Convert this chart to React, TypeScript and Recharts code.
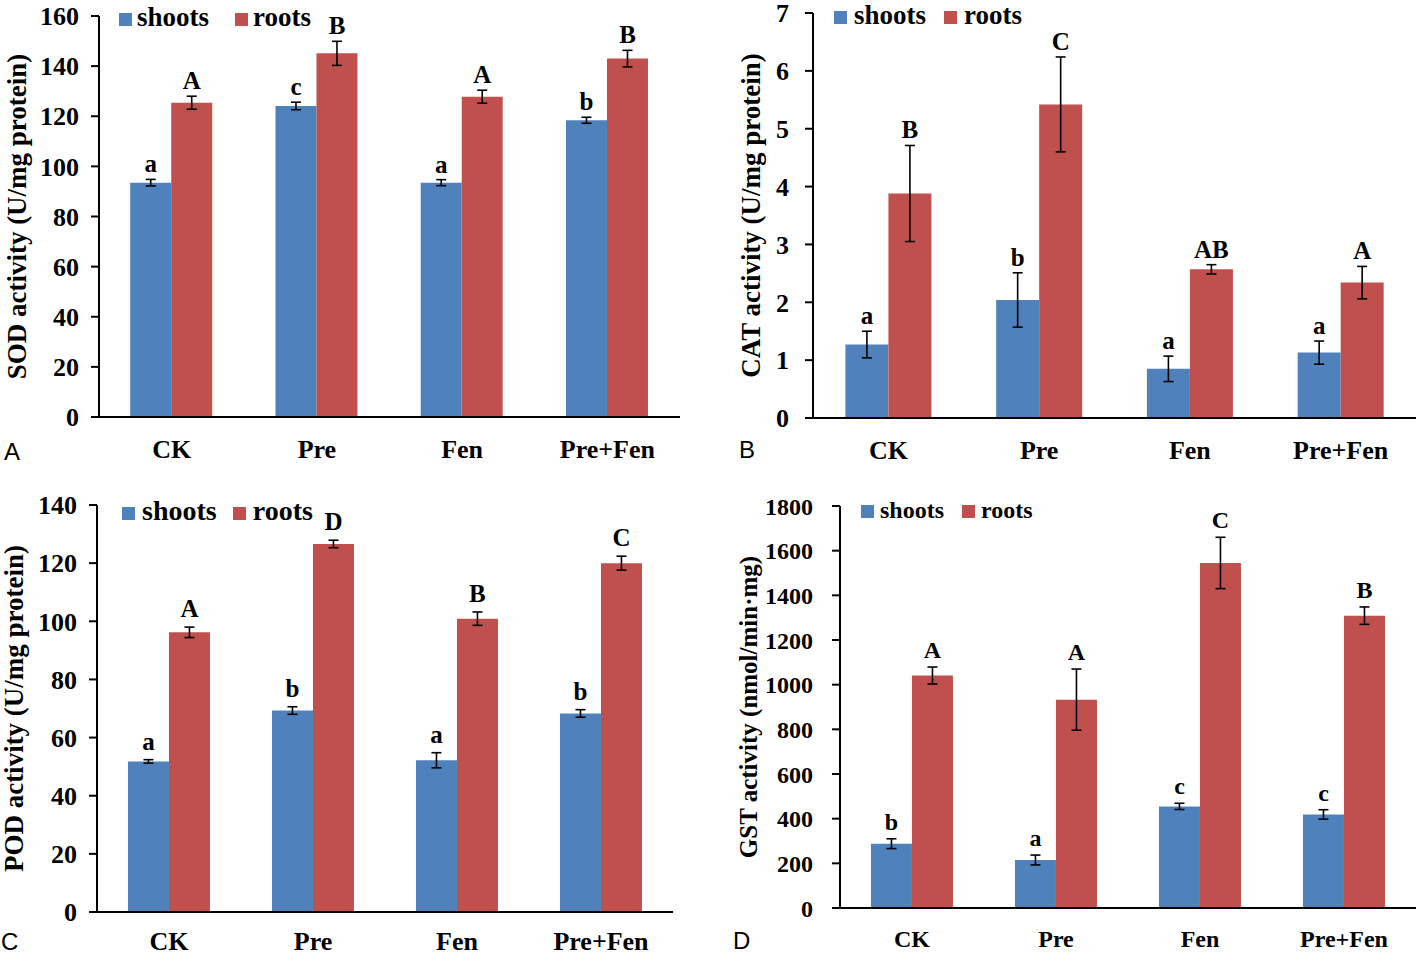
import React from "react";
import { BarChart, Bar, XAxis, YAxis, ErrorBar, LabelList, Legend } from "recharts";

const groups = ["CK", "Pre", "Fen", "Pre+Fen"];
const seriesOrder = ["shoots", "roots"];

// SOD (panel A)
const sodShoots = [93.5, 124.1, 93.5, 118.4];
const sodShootsErr = [1.3, 1.5, 1.2, 1.2];
const sodRoots = [125.4, 145.1, 127.8, 143.0];
const sodRootsErr = [2.6, 4.8, 2.6, 3.3];
const sodShootsSig = ["a", "c", "a", "b"];
const sodRootsSig = ["A", "B", "A", "B"];
const sodTicks = [0, 20, 40, 60, 80, 100, 120, 140, 160];

// CAT (panel B)
const catShoots = [1.27, 2.04, 0.85, 1.13];
const catShootsErr = [0.23, 0.47, 0.22, 0.2];
const catRoots = [3.88, 5.42, 2.57, 2.34];
const catRootsErr = [0.83, 0.82, 0.08, 0.28];
const catShootsSig = ["a", "b", "a", "a"];
const catRootsSig = ["B", "C", "AB", "A"];
const catTicks = [0, 1, 2, 3, 4, 5, 6, 7];

// POD (panel C)
const podShoots = [51.8, 69.3, 52.2, 68.3];
const podShootsErr = [0.6, 1.3, 2.6, 1.3];
const podRoots = [96.2, 126.6, 100.9, 120.0];
const podRootsErr = [1.8, 1.3, 2.3, 2.4];
const podShootsSig = ["a", "b", "a", "b"];
const podRootsSig = ["A", "D", "B", "C"];
const podTicks = [0, 20, 40, 60, 80, 100, 120, 140];

// GST (panel D)
const gstShoots = [288, 215, 455, 419];
const gstShootsErr = [22, 22, 14, 21];
const gstRoots = [1041, 933, 1545, 1309];
const gstRootsErr = [38, 137, 115, 39];
const gstShootsSig = ["b", "a", "c", "c"];
const gstRootsSig = ["A", "A", "C", "B"];
const gstTicks = [0, 200, 400, 600, 800, 1000, 1200, 1400, 1600, 1800];

const BLUE = "#4F81BD";
const RED = "#C0504D";
const SERIF = '"Liberation Serif", "Times New Roman", serif';
const SANS = '"Liberation Sans", Arial, sans-serif';

function buildRows(s: number[], sErr: number[], r: number[], rErr: number[], sSig: string[], rSig: string[]) {
  return groups.map((g, i) => ({
    group: g,
    shoots: s[i],
    shootsErr: sErr[i],
    shootsSig: sSig[i],
    roots: r[i],
    rootsErr: rErr[i],
    rootsSig: rSig[i],
  }));
}

type Cfg = {
  letter: string;
  title: string;
  rows: any[];
  ticks: number[];
  left: number;
  top: number;
  width: number;
  height: number;
  mTop: number;
  mRight: number;
  yWidth: number;
  xHeight: number;
  tickMargin: number;
  tickFont: number;
  catFont: number;
  catBase: number;
  titleX: number;
  titleFont: number;
  legLeft: number;
  legTop: number;
  legFont: number;
  legGap: number;
  legSpace: number;
  sigGap: number;
  sigFont: number;
  letterLeft: number;
  letterTop: number;
};

const panels: Cfg[] = [
  {
    letter: "A", title: "SOD activity (U/mg protein)",
    rows: buildRows(sodShoots, sodShootsErr, sodRoots, sodRootsErr, sodShootsSig, sodRootsSig),
    ticks: sodTicks, left: 0, top: 0, width: 700, height: 470,
    mTop: 16, mRight: 20, yWidth: 99, xHeight: 53, tickMargin: 12, tickFont: 26,
    catFont: 26, catBase: 41, titleX: 17, titleFont: 27,
    legLeft: 119, legTop: 4, legFont: 27, legGap: 5, legSpace: 26, sigGap: 7, sigFont: 25,
    letterLeft: 4, letterTop: 440,
  },
  {
    letter: "B", title: "CAT activity (U/mg protein)",
    rows: buildRows(catShoots, catShootsErr, catRoots, catRootsErr, catShootsSig, catRootsSig),
    ticks: catTicks, left: 710, top: 0, width: 708, height: 470,
    mTop: 13, mRight: 2, yWidth: 103, xHeight: 52, tickMargin: 16, tickFont: 26,
    catFont: 26, catBase: 41, titleX: 41, titleFont: 27,
    legLeft: 124, legTop: 2, legFont: 27, legGap: 7, legSpace: 18, sigGap: 7, sigFont: 25,
    letterLeft: 739, letterTop: 438,
  },
  {
    letter: "C", title: "POD activity (U/mg protein)",
    rows: buildRows(podShoots, podShootsErr, podRoots, podRootsErr, podShootsSig, podRootsSig),
    ticks: podTicks, left: 0, top: 480, width: 700, height: 476,
    mTop: 25, mRight: 27, yWidth: 97, xHeight: 44, tickMargin: 12, tickFont: 26,
    catFont: 26, catBase: 38, titleX: 14, titleFont: 27,
    legLeft: 122, legTop: 17, legFont: 28, legGap: 7, legSpace: 16, sigGap: 10, sigFont: 25,
    letterLeft: 1, letterTop: 930,
  },
  {
    letter: "D", title: "GST activity (nmol/min\u00b7mg)",
    rows: buildRows(gstShoots, gstShootsErr, gstRoots, gstRootsErr, gstShootsSig, gstRootsSig),
    ticks: gstTicks, left: 710, top: 480, width: 708, height: 476,
    mTop: 26, mRight: 2, yWidth: 130, xHeight: 48, tickMargin: 19, tickFont: 24,
    catFont: 24, catBase: 39, titleX: 38, titleFont: 25,
    legLeft: 151, legTop: 18, legFont: 24, legGap: 6, legSpace: 18, sigGap: 9, sigFont: 24,
    letterLeft: 733, letterTop: 929,
  },
];

function sigLabel(rows: any[], key: string, gap: number, font: number) {
  return (props: any) => {
    const vb = props.viewBox ?? props;
    const { x, y, width, height } = vb;
    const row = rows[props.index] ?? props.payload;
    if (!row || x == null) return null;
    const pxPerUnit = height / row[key];
    const errTop = y - row[key + "Err"] * pxPerUnit;
    return (
      <text x={x + width / 2} y={errTop - gap} textAnchor="middle" fontFamily={SERIF} fontWeight="bold" fontSize={font} fill="#000">
        {row[key + "Sig"]}
      </text>
    );
  };
}

function Panel({ cfg }: { cfg: Cfg }) {
  const max = cfg.ticks[cfg.ticks.length - 1];
  const plotH = cfg.height - cfg.mTop - cfg.xHeight;
  return (
    <div style={{ position: "absolute", left: cfg.left, top: cfg.top }}>
      <BarChart
        width={cfg.width}
        height={cfg.height}
        data={cfg.rows}
        margin={{ top: cfg.mTop, right: cfg.mRight, left: 0, bottom: 0 }}
        barCategoryGap="21.5%"
        barGap={0}
      >
        <XAxis
          dataKey="group"
          height={cfg.xHeight}
          axisLine={{ stroke: "#000", strokeWidth: 2 }}
          tickLine={false}
          tickSize={0}
          tickMargin={0}
          interval={0}
          tick={(p: any) => (
            <text x={p.x} y={p.y + cfg.catBase} textAnchor="middle" fontFamily={SERIF} fontWeight="bold" fontSize={cfg.catFont} fill="#000">
              {p.payload.value}
            </text>
          )}
        />
        <YAxis
          width={cfg.yWidth}
          domain={[0, max]}
          ticks={cfg.ticks}
          interval={0}
          axisLine={{ stroke: "#000", strokeWidth: 2 }}
          tickLine={{ stroke: "#000", strokeWidth: 2 }}
          tickSize={8}
          tickMargin={cfg.tickMargin}
          tick={{ fontFamily: SERIF, fontWeight: "bold", fontSize: cfg.tickFont, fill: "#000" }}
          label={(p: any) => {
            const vb = p.viewBox ?? { x: 0, y: cfg.mTop, height: plotH };
            const cy = vb.y + vb.height / 2;
            const cx = vb.x + cfg.titleX;
            return (
              <text
                x={cx}
                y={cy}
                transform={`rotate(-90, ${cx}, ${cy})`}
                textAnchor="middle"
                dominantBaseline="central"
                fontFamily={SERIF}
                fontWeight="bold"
                fontSize={cfg.titleFont}
                fill="#000"
              >
                {cfg.title}
              </text>
            );
          }}
        />
        <Legend
          layout="horizontal"
          verticalAlign="middle"
          align="center"
          wrapperStyle={{ left: cfg.legLeft, top: cfg.legTop, width: "auto", height: "auto" }}
          content={(props: any) => {
            const items = [...(props.payload || [])].sort(
              (a: any, b: any) => seriesOrder.indexOf(a.value) - seriesOrder.indexOf(b.value)
            );
            return (
              <div style={{ display: "flex", alignItems: "baseline", fontFamily: SERIF, fontWeight: "bold", fontSize: cfg.legFont, lineHeight: `${cfg.legFont}px`, whiteSpace: "nowrap" }}>
                {items.map((item: any) => (
                  <span key={item.value} style={{ display: "inline-flex", alignItems: "baseline", marginRight: cfg.legSpace }}>
                    <span style={{ display: "inline-block", width: 13, height: 13, background: item.color, marginRight: cfg.legGap }} />
                    <span>{item.value}</span>
                  </span>
                ))}
              </div>
            );
          }}
        />
        <Bar dataKey="shoots" name="shoots" fill={BLUE} isAnimationActive={false}>
          <ErrorBar dataKey="shootsErr" width={5} stroke="#000" strokeWidth={1.6} direction="y" />
          <LabelList dataKey="shootsSig" content={sigLabel(cfg.rows, "shoots", cfg.sigGap, cfg.sigFont)} />
        </Bar>
        <Bar dataKey="roots" name="roots" fill={RED} isAnimationActive={false}>
          <ErrorBar dataKey="rootsErr" width={5} stroke="#000" strokeWidth={1.6} direction="y" />
          <LabelList dataKey="rootsSig" content={sigLabel(cfg.rows, "roots", cfg.sigGap, cfg.sigFont)} />
        </Bar>
      </BarChart>
      <div
        style={{
          position: "absolute",
          left: cfg.letterLeft - cfg.left,
          top: cfg.letterTop - cfg.top,
          fontFamily: SANS,
          fontSize: 24,
          lineHeight: "24px",
          color: "#000",
        }}
      >
        {cfg.letter}
      </div>
    </div>
  );
}

export default function App() {
  return (
    <div style={{ position: "absolute", left: 0, top: 0, width: 1418, height: 956, background: "#fff", overflow: "hidden" }}>
      {panels.map((cfg) => (
        <Panel key={cfg.letter} cfg={cfg} />
      ))}
    </div>
  );
}
